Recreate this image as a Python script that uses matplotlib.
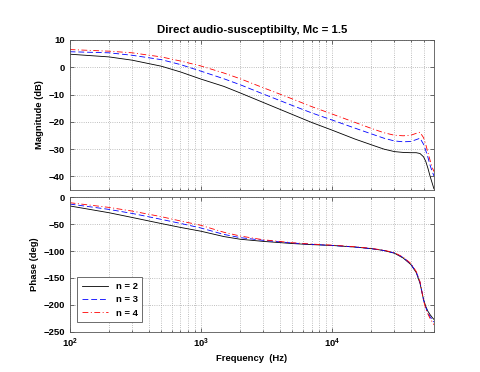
import matplotlib
matplotlib.use("Agg")
import matplotlib.pyplot as plt
from matplotlib.ticker import LogLocator, NullFormatter

plt.rcParams['font.family'] = ['Liberation Sans', 'DejaVu Sans']
plt.rcParams['font.weight'] = 'bold'
plt.rcParams['font.size'] = 6.8

# frequencies (Hz)
freq = [100, 200, 300, 500, 700, 1000, 1500, 2000, 3000, 5000, 7000, 10000,
        15000, 20000, 25000, 30000, 35000, 40000, 44000, 47000, 50000,
        52000, 54000, 56000, 58000, 60000]

# magnitude (dB)
mag_n2 = [4.8, 3.8, 2.6, 0.4, -1.7, -4.3, -7.0, -9.4, -12.9, -17.3, -20.2, -23.0,
          -26.3, -28.4, -30.0, -30.9, -31.2, -31.3, -31.3, -31.6, -32.8,
          -34.5, -37.0, -39.8, -42.2, -44.5]
mag_n3 = [5.7, 5.3, 4.4, 2.8, 1.0, -1.4, -4.2, -6.4, -9.8, -14.0, -16.7, -19.3,
          -22.3, -24.4, -26.0, -27.0, -27.3, -27.2, -26.5, -26.0, -28.2,
          -30.5, -33.0, -35.8, -38.0, -39.8]
mag_n4 = [6.5, 5.9, 5.3, 3.8, 2.3, 0.5, -2.1, -4.2, -7.5, -11.6, -14.4, -17.1,
          -20.2, -22.4, -24.0, -24.9, -25.1, -24.9, -24.2, -23.8, -25.8,
          -28.3, -31.2, -34.0, -36.5, -38.2]

# phase (deg)
ph_n2 = [-16, -28.7, -37.5, -48.8, -56, -63, -73, -78, -82, -86, -88, -89.5,
         -92.5, -95.5, -99, -104, -113, -125, -140, -160, -190,
         -203, -212, -218, -223, -227]
ph_n3 = [-12.5, -22.5, -30, -41, -48.5, -57, -69, -75, -80, -85, -87.5, -89.5,
         -92.5, -95.5, -99, -103.5, -112, -124, -139, -158, -191,
         -205, -215, -222, -227, -232]
ph_n4 = [-10, -18.8, -25.6, -36, -44, -52, -65, -72, -79, -84.5, -87, -89,
         -92, -95, -98.5, -103, -111.5, -123, -138, -157, -192,
         -207, -217, -225, -231, -237]

labels = ['n = 2', 'n = 3', 'n = 4']
colors = ['k', 'b', 'r']
dashes = [(), (7, 3.5), (7, 3, 1.2, 3)]

fig = plt.figure(figsize=(4.8, 3.72), dpi=100)
ax1 = fig.add_axes([0.145, 0.489, 0.759, 0.4035])
ax2 = fig.add_axes([0.145, 0.1083, 0.759, 0.3613])

for ax in (ax1, ax2):
    ax.set_xscale('log')
    ax.set_xlim(100, 60000)
    ax.xaxis.set_major_locator(LogLocator(base=10))
    ax.xaxis.set_minor_locator(LogLocator(base=10, subs=range(2, 10)))
    ax.xaxis.set_minor_formatter(NullFormatter())
    ax.grid(True, which='major', linestyle=':', color='#aaaaaa', linewidth=0.6)
    ax.grid(True, which='minor', axis='x', linestyle=':', color='#aaaaaa', linewidth=0.6)
    ax.tick_params(which='both', direction='in', top=True, right=True,
                   labelsize=6.8, width=0.5, colors='#333333', labelcolor='black')
    ax.tick_params(which='major', length=3)
    ax.tick_params(which='minor', length=1.5)
    for s in ax.spines.values():
        s.set_linewidth(0.6)
        s.set_color('#555555')


def draw(ax, y, c, d, lab=None):
    line, = ax.plot(freq, y, color=c, linewidth=0.6, label=lab)
    if d:
        line.set_dashes(d)
    return line


for m, c, d in zip([mag_n2, mag_n3, mag_n4], colors, dashes):
    draw(ax1, m, c, d)
ax1.set_ylim(-45, 10)
ax1.set_yticks([-40, -30, -20, -10, 0, 10])
ax1.xaxis.set_major_formatter(NullFormatter())
ax1.set_ylabel('Magnitude (dB)', fontweight='bold', labelpad=3)
ax1.set_title('Direct audio-susceptibilty, Mc = 1.5', fontweight='bold', pad=5)

for p, c, d, lab in zip([ph_n2, ph_n3, ph_n4], colors, dashes, labels):
    draw(ax2, p, c, d, lab)
ax2.set_ylim(-250, 0)
ax2.set_yticks([-250, -200, -150, -100, -50, 0])
ax2.set_ylabel('Phase (deg)', fontweight='bold', labelpad=3)
ax2.set_xlabel('Frequency  (Hz)', fontweight='bold', labelpad=3)

leg = ax2.legend(loc='lower left', bbox_to_anchor=(0.02, 0.07), borderaxespad=0,
                 fancybox=False, edgecolor='#555555', framealpha=1,
                 handlelength=2.8, fontsize=6.8, borderpad=0.5, labelspacing=0.45)
leg.get_frame().set_linewidth(0.6)

fig.savefig('out.png', dpi=100)
